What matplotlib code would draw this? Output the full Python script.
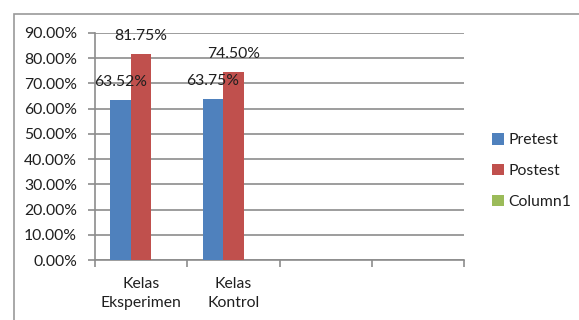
import matplotlib
matplotlib.use("Agg")
import matplotlib.pyplot as plt
import matplotlib.patches as mpatches
import numpy as np

categories = ["Kelas\nEksperimen", "Kelas\nKontrol", "", ""]
series_names = ["Pretest", "Postest", "Column1"]
pretest = [0.6352, 0.6375, np.nan, np.nan]
postest = [0.8175, 0.7450, np.nan, np.nan]
column1 = [np.nan, np.nan, np.nan, np.nan]
yticks = [0.0, 0.1, 0.2, 0.3, 0.4, 0.5, 0.6, 0.7, 0.8, 0.9]
colors = ["#4F81BD", "#C0504D", "#9BBB59"]

plt.rcParams['font.family'] = ['Lato', 'DejaVu Sans']
fs = 11.3
txt = "#1f1f1f"
grid_c = "#8c8c8c"

fig = plt.figure(figsize=(5.79, 3.2), dpi=100)
ax = fig.add_axes([95/579, 60/320, (464-95)/579, (260-33)/320])

x = np.arange(len(categories))
w = 1/4.5
data = [pretest, postest, column1]
for i, (name, vals, c) in enumerate(zip(series_names, data, colors)):
    bars = ax.bar(x + (i-1)*w, np.nan_to_num(vals, nan=0.0), width=w, color=c, label=name, zorder=3)
    labels = [f"{v*100:.2f}%" if not np.isnan(v) else "" for v in vals]
    texts = ax.bar_label(bars, labels=labels, padding=8, fontsize=fs, color=txt)
    for t in texts:
        t.set_zorder(10)

ax.set_xlim(-0.5, len(categories)-0.5)
ax.set_ylim(0, 0.9)
ax.set_yticks(yticks)
ax.set_yticklabels([f"{t*100:.2f}%" for t in yticks])
ax.yaxis.grid(True, color=grid_c, lw=1.2, zorder=0)
ax.set_axisbelow(True)
ax.set_xticks(x)
ax.set_xticklabels(categories, linespacing=1.5)
ax.set_xticks(np.arange(-0.5, len(categories)), minor=True)
ax.tick_params(axis='x', which='major', length=0, pad=12, labelsize=fs, labelcolor=txt)
ax.tick_params(axis='x', which='minor', length=5, color=grid_c, width=1.2)
ax.tick_params(axis='y', length=5, color=grid_c, width=1.2, pad=8, labelsize=fs, labelcolor=txt)
for s in ["top", "right"]:
    ax.spines[s].set_visible(False)
for s in ["left", "bottom"]:
    ax.spines[s].set_color(grid_c)
    ax.spines[s].set_linewidth(1.2)

leg = fig.legend(loc="upper left", bbox_to_anchor=(478/579, 1-119/320), frameon=False,
                 fontsize=fs, handlelength=0.75, handleheight=0.75, handletextpad=0.3,
                 labelspacing=1.05, labelcolor=txt)

border = mpatches.Rectangle((13.5/579, -0.1), 2, 1.1 - 13.5/320, transform=fig.transFigure,
                            fill=False, edgecolor="#999999", lw=1.2, clip_on=False)
fig.patches.append(border)

fig.savefig("out.png", dpi=100)
